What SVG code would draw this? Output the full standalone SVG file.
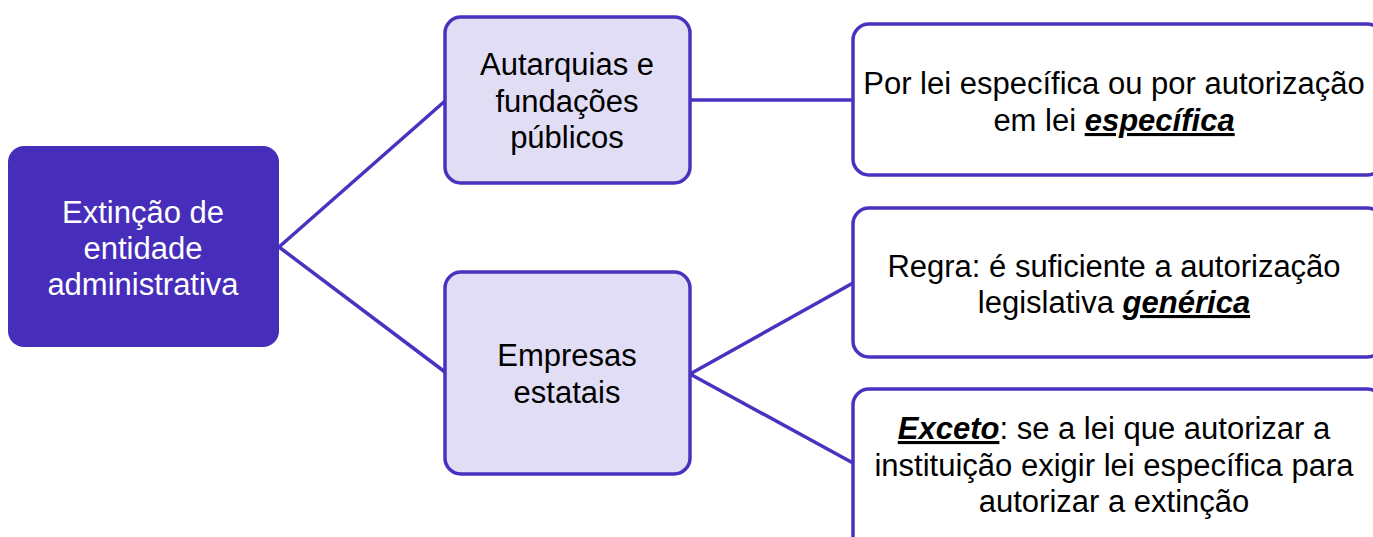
<svg xmlns="http://www.w3.org/2000/svg" width="1373" height="537" viewBox="0 0 1373 537">
<style>
.t{font-family:"Liberation Sans",Arial,sans-serif;font-size:31px;text-anchor:middle;fill:#000}
.w{fill:#fff}
.b{font-weight:bold;font-style:italic;text-decoration:underline}
.root{fill:#462EBA}
.mid{fill:#E1DDF5;stroke:#4A32C0;stroke-width:3.5}
.leaf{fill:#fff;stroke:#4A32C0;stroke-width:3.5}
.c{stroke:#4A32C0;stroke-width:3.5;fill:none}
</style>
<rect width="1373" height="537" fill="#fff"/>
<g id="connectors">
<line class="c" x1="279" y1="247" x2="445" y2="101"/>
<line class="c" x1="279" y1="247" x2="445" y2="372"/>
<line class="c" x1="690" y1="100" x2="853" y2="100"/>
<line class="c" x1="690" y1="374" x2="853" y2="283"/>
<line class="c" x1="690" y1="374" x2="853" y2="463"/>
</g>
<g id="root">
<rect class="root" x="8" y="146" width="271" height="201" rx="16"/>
<text class="t w" x="143" y="223">Extinção de</text>
<text class="t w" x="143" y="259">entidade</text>
<text class="t w" x="143" y="295">administrativa</text>
</g>
<g id="autarquias">
<rect class="mid" x="445" y="17" width="245" height="166" rx="16"/>
<text class="t" x="567" y="75">Autarquias e</text>
<text class="t" x="567" y="112">fundações</text>
<text class="t" x="567" y="148">públicos</text>
</g>
<g id="empresas">
<rect class="mid" x="445" y="272" width="245" height="202" rx="16"/>
<text class="t" x="567" y="366">Empresas</text>
<text class="t" x="567" y="403">estatais</text>
</g>
<g id="lei-especifica">
<rect class="leaf" x="853" y="24" width="530" height="151" rx="16"/>
<text class="t" x="1114" y="94">Por lei específica ou por autorização</text>
<text class="t" x="1114" y="131">em lei <tspan class="b">específica</tspan></text>
</g>
<g id="regra">
<rect class="leaf" x="853" y="208" width="530" height="149" rx="16"/>
<text class="t" x="1114" y="277">Regra: é suficiente a autorização</text>
<text class="t" x="1114" y="313">legislativa <tspan class="b">genérica</tspan></text>
</g>
<g id="exceto">
<rect class="leaf" x="853" y="389" width="530" height="170" rx="16"/>
<text class="t" x="1114" y="439"><tspan class="b">Exceto</tspan>: se a lei que autorizar a</text>
<text class="t" x="1114" y="476">instituição exigir lei específica para</text>
<text class="t" x="1114" y="512">autorizar a extinção</text>
</g>
</svg>
